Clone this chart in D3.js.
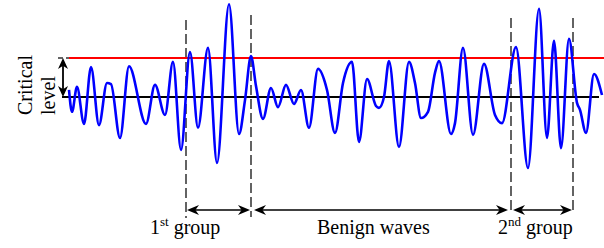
<!DOCTYPE html>
<html>
<head>
<meta charset="utf-8">
<script src="https://cdn.jsdelivr.net/npm/d3@7"></script>
<style>
html,body{margin:0;padding:0;background:#fff;}
svg{display:block;}
text{font-family:"Liberation Serif","Times New Roman",serif;fill:#000;}
</style>
</head>
<body>
<script>
// time samples (extrema of the wave) and amplitude relative to baseline (critical level = 1)
const times = [5,8,13,20,27,35,43,47,56,65,82,91,101,109,117,126,134,144,153,165,175,181,187,192,199,207,214,222,230,237,245,254,263,271,279,288,295,303,312,315,320,325,335,345,351,357,364,371,375,387,391,399,409,420,431,438,452,464,475,483,490,497,505,513,516,522,530,538];
const amps  = [0.18,-0.38,0.26,-0.69,0.77,-0.72,0.36,0.33,-1.05,0.79,-0.69,0.31,-0.46,0.90,-1.36,1.15,-0.79,1.26,-1.69,2.38,-0.95,-0.08,1.05,0.28,-0.56,0.23,-0.26,0.31,-0.18,0.18,-0.79,0.72,0.18,-0.92,0.36,0.90,-1.15,0.46,-0.23,-0.28,0.00,0.92,-1.28,0.90,0.36,-0.54,-0.38,0.62,0.92,-0.95,-0.67,1.26,-0.97,0.85,-0.46,-0.67,1.28,-1.82,2.26,-1.05,1.44,-1.31,1.49,-0.15,-0.33,-0.92,0.59,0.05];
const boundaries = [122,187,447,509];
const groupLabels = [
  {main:"1", sup:"st", rest:" group"},
  {main:"Benign waves", sup:"", rest:""},
  {main:"2", sup:"nd", rest:" group"}
];
const levelLabel = ["Critical","level"];

const W = 604, H = 248;
const svg = d3.select("body").append("svg").attr("width",W).attr("height",H);
svg.append("rect").attr("width",W).attr("height",H).attr("fill","#fff");

const x = d3.scaleLinear().domain([0,540]).range([64,604]);
const y = d3.scaleLinear().domain([0,1]).range([97,58]);

// dashed group boundaries
const dashTops = [20,15,18,18];
const dashBots = [218,217,210,210];
boundaries.forEach((b,i)=>{
  svg.append("line")
    .attr("x1",x(b)).attr("x2",x(b))
    .attr("y1",dashTops[i]).attr("y2",dashBots[i])
    .attr("stroke","#222").attr("stroke-width",1.4)
    .attr("stroke-dasharray","10,4");
});

// baseline and critical level
svg.append("line").attr("x1",x(-2)).attr("x2",x(535)).attr("y1",y(0)).attr("y2",y(0))
  .attr("stroke","#000").attr("stroke-width",2.2);
svg.append("line").attr("x1",x(-6)).attr("x2",x(16)).attr("y1",y(1)).attr("y2",y(1))
  .attr("stroke","#333").attr("stroke-width",1.3).attr("stroke-dasharray","5,3");
svg.append("line").attr("x1",x(5)).attr("x2",x(540)).attr("y1",y(1)).attr("y2",y(1))
  .attr("stroke","#ff0000").attr("stroke-width",2);

// wave
const data = times.map((t,i)=>[t,amps[i]]);
svg.append("path").datum(data)
  .attr("d", d3.line().x(d=>x(d[0])).y(d=>y(d[1])).curve(d3.curveMonotoneX))
  .attr("fill","none").attr("stroke","#0000ff").attr("stroke-width",2.6)
  .attr("stroke-linejoin","round");

// arrowhead helper: tip at (tx,ty), direction angle (deg)
function head(tx,ty,angle,len,hw){
  const p = `M0,0 L${-len},${-hw} L${-len*0.7},0 L${-len},${hw} Z`;
  svg.append("path").attr("d",p)
    .attr("transform",`translate(${tx},${ty}) rotate(${angle})`)
    .attr("fill","#000");
}
function dbl(x1,x2,yy){
  svg.append("line").attr("x1",x1+3).attr("x2",x2-3).attr("y1",yy).attr("y2",yy)
    .attr("stroke","#000").attr("stroke-width",1.6);
  head(x1,yy,180,12,5);
  head(x2,yy,0,12,5);
}
// left vertical double arrow for critical level
{
  const ax = x(-1);
  svg.append("line").attr("x1",ax).attr("x2",ax).attr("y1",y(1)+3).attr("y2",y(0)-3)
    .attr("stroke","#000").attr("stroke-width",1.8);
  head(ax,y(1),-90,11,5);
  head(ax,y(0),90,11,5);
}
// group arrows
const ay = 210;
dbl(x(boundaries[0])+1, x(boundaries[1])-1, ay);
dbl(x(boundaries[1])+3, x(boundaries[2])-3, ay);
dbl(x(boundaries[2])+2, x(boundaries[3])-1, ay);

// labels
const lx = [150,317,498];
groupLabels.forEach((g,i)=>{
  const t = svg.append("text").attr("x",lx[i]).attr("y",234).attr("font-size",20);
  t.append("tspan").text(g.main);
  if(g.sup){
    t.append("tspan").attr("font-size",13).attr("dy",-8).text(g.sup);
    t.append("tspan").attr("dy",8).text(g.rest);
  }
});

// Critical level rotated text
const lxs = [32,55];
levelLabel.forEach((s,i)=>{
  svg.append("text").attr("transform",`translate(${lxs[i]},115) rotate(-90)`)
    .attr("font-size",20).attr("text-anchor","start").text(s);
});
</script>
</body>
</html>
